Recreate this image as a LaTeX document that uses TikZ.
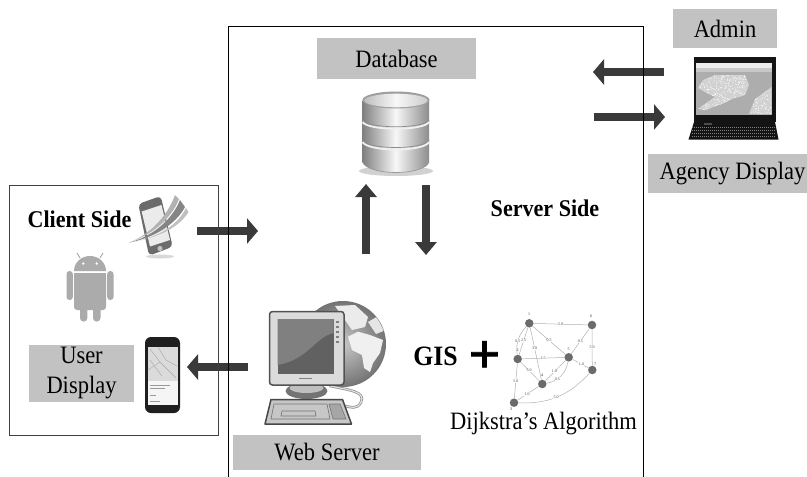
\documentclass[tikz,border=0pt]{standalone}
\usepackage{fontspec}
\setmainfont{Liberation Serif}
\newfontface\plusface[FakeBold=1.2]{Liberation Serif Bold}
\usetikzlibrary{arrows.meta,calc}
\definecolor{lab}{HTML}{C2C2C2}
\definecolor{arr}{HTML}{3A3A3A}
\definecolor{andr}{HTML}{ABABAB}
\newcommand\nar[1]{\scalebox{.9}[1]{#1}}
\newcommand\narb[1]{\scalebox{.92}[1]{#1}}
\tikzset{
  x=1pt,y=-1pt,
  labelbox/.style={fill=lab,draw=none,inner sep=0pt,font=\fontsize{25}{30}\selectfont,text=black,anchor=center},
  plain/.style={inner sep=0pt,font=\fontsize{25}{30}\selectfont,text=black},
  boldtext/.style={inner sep=0pt,font=\fontsize{24}{28}\selectfont\bfseries,text=black},
  fatarrow/.style={draw=arr,line width=7.5pt,-{Triangle[length=11pt,width=25pt,color=arr]}},
  fatarrowv/.style={draw=arr,line width=7.5pt,-{Triangle[length=13pt,width=21pt,color=arr]}},
  gnode/.style={circle,fill=black!58,draw=none,minimum size=8.5pt,inner sep=0pt},
  gedge/.style={draw=black!30,line width=0.5pt},
  gnum/.style={font=\fontsize{4}{4}\selectfont,text=black!75,inner sep=0.3pt,fill=white},
  gtag/.style={font=\fontsize{4}{4}\selectfont,text=black!85,inner sep=0pt},
}
\begin{document}
\begin{tikzpicture}
\useasboundingbox (0,0) rectangle (807,477);
\fill[white] (0,0) rectangle (807,477);

% label boxes
\node[labelbox,minimum width=159pt,minimum height=41pt] (db) at (396.5,58.5) {\nar{Database}};
\node[labelbox,minimum width=104pt,minimum height=39pt] (admin) at (725,28.5) {\nar{Admin}};
\path[fill=lab] (648,154) rectangle (807,193);
\node[plain] (agency) at (732.5,173.5) {\nar{Agency Display}};
\node[labelbox,minimum width=105pt,minimum height=57pt,align=center] (user) at (81.5,373.5) {\nar{User}\\\nar{Display}};
\node[labelbox,minimum width=188pt,minimum height=35pt] (web) at (327,452.5) {\nar{Web Server}};

\node[boldtext] (client) at (79.5,219) {\narb{Client Side}};
\node[boldtext] (server) at (545,208) {\narb{Server Side}};
\node[boldtext,font=\fontsize{28}{32}\selectfont\bfseries] (gis) at (435.5,356) {\narb{GIS}};
\node[inner sep=0pt,font=\fontsize{56}{60}\plusface] (plus) at (484.5,357) {+};
\node[plain] (dijk) at (543.5,424) {\nar{Dijkstra’s Algorithm}};

% arrow end points
\coordinate (c1a) at (197,231); \coordinate (c1b) at (258,231);
\coordinate (u1a) at (248,367); \coordinate (u1b) at (187,367);
\coordinate (a1a) at (664,72);  \coordinate (a1b) at (593,72);
\coordinate (a2a) at (594,117); \coordinate (a2b) at (665,117);
\coordinate (d1a) at (366,254); \coordinate (d1b) at (366,184);
\coordinate (d2a) at (426,185); \coordinate (d2b) at (426,255);
\draw[fatarrow] (c1a) -- (c1b);
\draw[fatarrow] (u1a) -- (u1b);
\draw[fatarrow] (a1a) -- (a1b);
\draw[fatarrow] (a2a) -- (a2b);
\draw[fatarrowv] (d1a) -- (d1b);
\draw[fatarrowv] (d2a) -- (d2b);

% frames
\draw[black,line width=1pt] (228.5,477) -- (228.5,26.5) -- (643.5,26.5) -- (643.5,477);
\draw[black!75,line width=1pt] (9,185) rectangle (218,435);

% database icon
\fill[black!18] (396,171) ellipse (37 and 5);
\shade[left color=black!50,right color=black!45,middle color=black!3] (362.5,100) -- (362.5,162) .. controls (368,176) and (424,176) .. (429,162) -- (429,100) -- cycle;
\draw[black!45,line width=.7pt] (362.5,120) .. controls (368,129) and (424,129) .. (429,120);
\draw[black!6,line width=1.8pt] (362.5,122) .. controls (368,131) and (424,131) .. (429,122);
\draw[black!45,line width=.7pt] (362.5,140) .. controls (368,150) and (424,150) .. (429,140);
\draw[black!6,line width=1.8pt] (362.5,142) .. controls (368,152) and (424,152) .. (429,142);
\draw[black!40,line width=.7pt] (362.5,162) .. controls (368,176) and (424,176) .. (429,162);
\fill[black!38] (396,100) ellipse (33.5 and 8.5);
\shade[left color=black!25,right color=black!20,middle color=black!3] (396,100.5) ellipse (31.5 and 6.8);

% client phone with swoosh
\fill[black!15] (160,256.5) ellipse (14 and 2);
\fill[black!58,rounded corners=4pt] (138.3,204) -- (160.7,196) -- (172.7,246.7) -- (149,255.7) -- cycle;
\fill[black!8] (141.7,211.5) -- (161.5,205) -- (170,240) -- (150,246.5) -- cycle;
\fill[black!25] (160,248.5) circle (2.6);
\fill[black!30] (129,242.5) .. controls (150,235) and (168,215) .. (175,195) -- (179,199) .. controls (172,218) and (152,235) .. cycle;
\fill[black!48] (129,242.5) .. controls (152,237) and (172,220) .. (180,200) -- (185,207) .. controls (176,224) and (154,238) .. cycle;
\fill[black!25] (129,242.5) .. controls (154,239) and (176,228) .. (186,208) -- (188.5,212) .. controls (180,226) and (160,238) .. cycle;

% android
\fill[andr] (74,271) arc[start angle=180,end angle=360,x radius=16,y radius=15] -- cycle;
\draw[andr,line width=1pt] (80,258) -- (77,253);
\draw[andr,line width=1pt] (100,258) -- (103,253);
\fill[white] (83.3,263.5) circle (1.3) (96.7,263.5) circle (1.3);
\fill[andr,rounded corners=3pt] (74,273) -- (106,273) -- (106,310) -- (74,310) -- cycle;
\fill[andr] (74,273) rectangle (106,280);
\fill[andr,rounded corners=3pt] (66.5,271) rectangle (72.8,300);
\fill[andr,rounded corners=3pt] (107.2,271) rectangle (113.5,300);
\fill[andr,rounded corners=3.5pt] (80,300) rectangle (87.4,321.5);
\fill[andr,rounded corners=3.5pt] (93,300) rectangle (100.5,321.5);

% user phone
\fill[black!88,rounded corners=6pt] (145,337) rectangle (180,413);
\fill[black!14] (147.5,347) rectangle (177.5,381);
\fill[black!4] (147.5,381) rectangle (177.5,405);
\draw[black!35,line width=0.4pt] (150,349) -- (160,362) -- (176,378) (150,360) -- (162,376) (158,347) -- (166,360) -- (177,366) (148,370) -- (160,362);
\draw[black!40,line width=0.4pt] (150,385) -- (170,385) (150,388) -- (165,388) (150,395) -- (156,395) (150,401) -- (160,401);

% web server icon: globe, cable, monitor, keyboard
\shade[inner color=black!22,outer color=black!55] (343,344) circle (43);
\begin{scope}
\clip (343,344) circle (42.5);
\fill[black!6] (348,336.7) -- (358,331.7) -- (370,335) -- (383,340) -- (380,353) -- (373,363) -- (370,372) -- (364,368) -- (362,355) -- (352,350) -- cycle;
\fill[black!8] (335,306) -- (355,305) -- (368,317) -- (365,327) -- (352,330) -- (345,320) -- cycle;
\fill[black!10] (368,322) -- (378,316) -- (386,330) -- (376,334) -- cycle;
\end{scope}
\draw[black!45,line width=2.6pt,line cap=round] (330,386) .. controls (350,390) and (366,392) .. (361,402) .. controls (358,410) and (350,407) .. (345,406);
\draw[black!12,line width=1.2pt,line cap=round] (330,386) .. controls (350,390) and (366,392) .. (361,402) .. controls (358,410) and (350,407) .. (345,406);
\fill[black!55] (306.5,391) ellipse (21 and 8);
\fill[black!25] (306.5,388) ellipse (17 and 5);
\draw[black!68,fill=black!14,line width=1.5pt,rounded corners=3pt] (269.5,311.5) rectangle (344,385);
\fill[black!62] (277.5,319) rectangle (333.5,373.5);
\fill[black!50] (277.5,319) -- (333.5,319) -- (333.5,333) .. controls (315,337) and (308,360) .. (277.5,365) -- cycle;
\foreach \yy in {321,326,331,336,341}{\fill[black!50] (336,\yy) rectangle (339,{\yy+2});}
\fill[black!50] (299,378) rectangle (312,379);
\draw[black!72,fill=black!22,line width=1.5pt,line join=round] (271,399.5) -- (342.5,399.5) -- (351.5,424) -- (265,424) -- cycle;
\draw[black!55,line width=0.6pt] (274,404) -- (327,404) -- (330,419) -- (271,419) -- cycle;
\draw[black!55,line width=0.6pt] (282,411) -- (315,411) -- (316,416) -- (281,416) -- cycle;
\draw[black!55,fill=black!35,line width=0.6pt] (329,404) -- (340,404) -- (346,419) -- (333,419) -- cycle;

% laptop
\fill[black!92] (693.5,57) rectangle (775.5,122);
\fill[black!92] (694,122) -- (775,122) -- (778.5,139.5) -- (688.5,139.5) -- cycle;
\fill[black!32] (696,63) rectangle (771.5,115);
\fill[black!8] (696,63) rectangle (771.5,68);
\fill[black!22] (696,68) rectangle (771.5,72);
\begin{scope}
\clip (703,80) -- (715,75) -- (745,75) -- (749,85) -- (745,95) -- (732,99) -- (722,104) -- (705,110) -- (698,109) -- (715,97) -- (705,92) -- (698,88) -- cycle (771.5,87) -- (755,99) -- (749,114) -- (771.5,114) -- cycle;
\fill[black!18] (696,72) rectangle (771.5,115);
\pgfmathsetseed{7}
\foreach \i in {1,...,700}{
  \pgfmathsetmacro\px{696+75*rnd}
  \pgfmathsetmacro\py{73+42*rnd}
  \fill[white] (\px,\py) circle (0.45);
}
\end{scope}
\fill[black!70] (704,123) rectangle (712,125);
\foreach \yy in {127,130,133,136}{\draw[black!50,line width=0.4pt,dash pattern=on 1pt off 1pt] (692,\yy) -- (775,\yy);}

% graph
\node[gnode] (n1) at (529.3,323.3) {};
\node[gnode] (n6) at (592,325) {};
\node[gnode] (n2) at (517.7,359) {};
\node[gnode] (n5) at (568.7,357.3) {};
\node[gnode] (n7) at (592.3,370) {};
\node[gnode] (n4) at (542.3,384) {};
\node[gnode] (n3) at (514,402.7) {};
\draw[gedge] (n1) -- node[gnum]{5.0} (n6);
\draw[gedge] (n1) to[bend right=25] node[gnum,pos=.55]{0.5} (n2);
\draw[gedge] (n1) -- node[gnum,pos=.48]{2.5} (n2);
\draw[gedge] (n1) -- node[gnum,pos=.4]{3.0} (n4);
\draw[gedge] (n1) -- node[gnum,pos=.5]{0.5} (n5);
\draw[gedge] (n2) -- node[gnum]{2.5} (n5);
\draw[gedge] (n2) -- node[gnum,pos=.45]{3.0} (n4);
\draw[gedge] (n2) -- node[gnum,pos=.5]{5.0} (n3);
\draw[gedge] (n5) -- node[gnum,pos=.55]{1.0} (n4);
\draw[gedge] (n5) to[bend left=35] node[gnum,pos=.65]{0.5} (n4);
\draw[gedge] (n5) -- node[gnum,pos=.5]{0.5} (n6);
\draw[gedge] (n5) -- node[gnum,pos=.55]{1.0} (n7);
\draw[gedge] (n6) -- node[gnum]{5.0} (n7);
\draw[gedge] (n4) -- node[gnum,pos=.55]{1.0} (n3);
\draw[gedge] (n3) to[bend right=25] node[gnum,pos=.48]{5.0} (n7);
\node[gtag] (t1) at (529,314.5) {1};
\node[gtag] (t6) at (591,316.5) {6};
\node[gtag] (t2) at (517.5,350.5) {2};
\node[gtag] (t5) at (568.5,349) {5};
\node[gtag] (t7) at (595,364) {7};
\node[gtag] (t4) at (542,375.5) {4};
\node[gtag] (t3) at (511,409) {3};
\end{tikzpicture}
\end{document}
